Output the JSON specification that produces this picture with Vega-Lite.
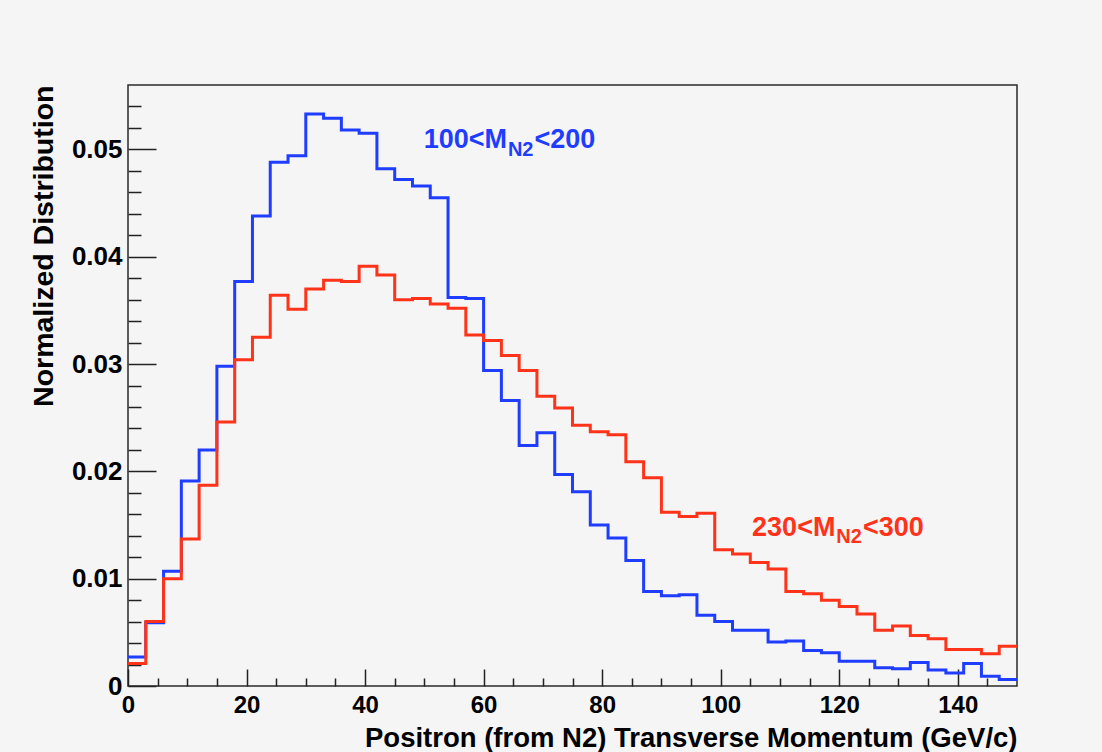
{
  "$schema": "https://vega.github.io/schema/vega-lite/v6.json",
  "autosize": "none",
  "width": 889,
  "height": 601,
  "padding": {"left": 128, "top": 85, "right": 85, "bottom": 66},
  "background": "#f5f5f5",
  "config": {
    "font": "Liberation Sans",
    "view": {"stroke": "#2a2a2a", "strokeWidth": 1.5, "fill": "#f5f5f5"},
    "axis": {
      "domain": false,
      "grid": false,
      "tickColor": "#222222",
      "tickWidth": 1.5,
      "labelFont": "Liberation Sans",
      "labelFontWeight": "bold",
      "labelFontSize": 24,
      "labelColor": "#000000",
      "titleFont": "Liberation Sans",
      "titleFontWeight": "bold",
      "titleFontSize": 27.5,
      "titleColor": "#000000",
      "zindex": 1
    }
  },
  "datasets": {
    "bins": [
      {"m": "100-200", "lo": 0, "hi": 3, "v": 0.0027},
      {"m": "100-200", "lo": 3, "hi": 6, "v": 0.0059},
      {"m": "100-200", "lo": 6, "hi": 9, "v": 0.0107},
      {"m": "100-200", "lo": 9, "hi": 12, "v": 0.0191},
      {"m": "100-200", "lo": 12, "hi": 15, "v": 0.0220},
      {"m": "100-200", "lo": 15, "hi": 18, "v": 0.0298},
      {"m": "100-200", "lo": 18, "hi": 21, "v": 0.0377},
      {"m": "100-200", "lo": 21, "hi": 24, "v": 0.0438},
      {"m": "100-200", "lo": 24, "hi": 27, "v": 0.0488},
      {"m": "100-200", "lo": 27, "hi": 30, "v": 0.0494},
      {"m": "100-200", "lo": 30, "hi": 33, "v": 0.0533},
      {"m": "100-200", "lo": 33, "hi": 36, "v": 0.0529},
      {"m": "100-200", "lo": 36, "hi": 39, "v": 0.0518},
      {"m": "100-200", "lo": 39, "hi": 42, "v": 0.0515},
      {"m": "100-200", "lo": 42, "hi": 45, "v": 0.0482},
      {"m": "100-200", "lo": 45, "hi": 48, "v": 0.0472},
      {"m": "100-200", "lo": 48, "hi": 51, "v": 0.0466},
      {"m": "100-200", "lo": 51, "hi": 54, "v": 0.0455},
      {"m": "100-200", "lo": 54, "hi": 57, "v": 0.0362},
      {"m": "100-200", "lo": 57, "hi": 60, "v": 0.0361},
      {"m": "100-200", "lo": 60, "hi": 63, "v": 0.0294},
      {"m": "100-200", "lo": 63, "hi": 66, "v": 0.0266},
      {"m": "100-200", "lo": 66, "hi": 69, "v": 0.0224},
      {"m": "100-200", "lo": 69, "hi": 72, "v": 0.0236},
      {"m": "100-200", "lo": 72, "hi": 75, "v": 0.0197},
      {"m": "100-200", "lo": 75, "hi": 78, "v": 0.0181},
      {"m": "100-200", "lo": 78, "hi": 81, "v": 0.0150},
      {"m": "100-200", "lo": 81, "hi": 84, "v": 0.0138},
      {"m": "100-200", "lo": 84, "hi": 87, "v": 0.0117},
      {"m": "100-200", "lo": 87, "hi": 90, "v": 0.0088},
      {"m": "100-200", "lo": 90, "hi": 93, "v": 0.0084},
      {"m": "100-200", "lo": 93, "hi": 96, "v": 0.0085},
      {"m": "100-200", "lo": 96, "hi": 99, "v": 0.0066},
      {"m": "100-200", "lo": 99, "hi": 102, "v": 0.0060},
      {"m": "100-200", "lo": 102, "hi": 105, "v": 0.0052},
      {"m": "100-200", "lo": 105, "hi": 108, "v": 0.0052},
      {"m": "100-200", "lo": 108, "hi": 111, "v": 0.0041},
      {"m": "100-200", "lo": 111, "hi": 114, "v": 0.0042},
      {"m": "100-200", "lo": 114, "hi": 117, "v": 0.0033},
      {"m": "100-200", "lo": 117, "hi": 120, "v": 0.0031},
      {"m": "100-200", "lo": 120, "hi": 123, "v": 0.0023},
      {"m": "100-200", "lo": 123, "hi": 126, "v": 0.0023},
      {"m": "100-200", "lo": 126, "hi": 129, "v": 0.0017},
      {"m": "100-200", "lo": 129, "hi": 132, "v": 0.0016},
      {"m": "100-200", "lo": 132, "hi": 135, "v": 0.0022},
      {"m": "100-200", "lo": 135, "hi": 138, "v": 0.0015},
      {"m": "100-200", "lo": 138, "hi": 141, "v": 0.0012},
      {"m": "100-200", "lo": 141, "hi": 144, "v": 0.0021},
      {"m": "100-200", "lo": 144, "hi": 147, "v": 0.0009},
      {"m": "100-200", "lo": 147, "hi": 150, "v": 0.0006},
      {"m": "230-300", "lo": 0, "hi": 3, "v": 0.0021},
      {"m": "230-300", "lo": 3, "hi": 6, "v": 0.0060},
      {"m": "230-300", "lo": 6, "hi": 9, "v": 0.0100},
      {"m": "230-300", "lo": 9, "hi": 12, "v": 0.0137},
      {"m": "230-300", "lo": 12, "hi": 15, "v": 0.0187},
      {"m": "230-300", "lo": 15, "hi": 18, "v": 0.0246},
      {"m": "230-300", "lo": 18, "hi": 21, "v": 0.0304},
      {"m": "230-300", "lo": 21, "hi": 24, "v": 0.0325},
      {"m": "230-300", "lo": 24, "hi": 27, "v": 0.0364},
      {"m": "230-300", "lo": 27, "hi": 30, "v": 0.0351},
      {"m": "230-300", "lo": 30, "hi": 33, "v": 0.0370},
      {"m": "230-300", "lo": 33, "hi": 36, "v": 0.0378},
      {"m": "230-300", "lo": 36, "hi": 39, "v": 0.0377},
      {"m": "230-300", "lo": 39, "hi": 42, "v": 0.0391},
      {"m": "230-300", "lo": 42, "hi": 45, "v": 0.0383},
      {"m": "230-300", "lo": 45, "hi": 48, "v": 0.0360},
      {"m": "230-300", "lo": 48, "hi": 51, "v": 0.0361},
      {"m": "230-300", "lo": 51, "hi": 54, "v": 0.0356},
      {"m": "230-300", "lo": 54, "hi": 57, "v": 0.0352},
      {"m": "230-300", "lo": 57, "hi": 60, "v": 0.0327},
      {"m": "230-300", "lo": 60, "hi": 63, "v": 0.0322},
      {"m": "230-300", "lo": 63, "hi": 66, "v": 0.0308},
      {"m": "230-300", "lo": 66, "hi": 69, "v": 0.0294},
      {"m": "230-300", "lo": 69, "hi": 72, "v": 0.0270},
      {"m": "230-300", "lo": 72, "hi": 75, "v": 0.0259},
      {"m": "230-300", "lo": 75, "hi": 78, "v": 0.0243},
      {"m": "230-300", "lo": 78, "hi": 81, "v": 0.0237},
      {"m": "230-300", "lo": 81, "hi": 84, "v": 0.0234},
      {"m": "230-300", "lo": 84, "hi": 87, "v": 0.0209},
      {"m": "230-300", "lo": 87, "hi": 90, "v": 0.0194},
      {"m": "230-300", "lo": 90, "hi": 93, "v": 0.0162},
      {"m": "230-300", "lo": 93, "hi": 96, "v": 0.0158},
      {"m": "230-300", "lo": 96, "hi": 99, "v": 0.0161},
      {"m": "230-300", "lo": 99, "hi": 102, "v": 0.0127},
      {"m": "230-300", "lo": 102, "hi": 105, "v": 0.0123},
      {"m": "230-300", "lo": 105, "hi": 108, "v": 0.0115},
      {"m": "230-300", "lo": 108, "hi": 111, "v": 0.0109},
      {"m": "230-300", "lo": 111, "hi": 114, "v": 0.0088},
      {"m": "230-300", "lo": 114, "hi": 117, "v": 0.0086},
      {"m": "230-300", "lo": 117, "hi": 120, "v": 0.0080},
      {"m": "230-300", "lo": 120, "hi": 123, "v": 0.0074},
      {"m": "230-300", "lo": 123, "hi": 126, "v": 0.0067},
      {"m": "230-300", "lo": 126, "hi": 129, "v": 0.0052},
      {"m": "230-300", "lo": 129, "hi": 132, "v": 0.0056},
      {"m": "230-300", "lo": 132, "hi": 135, "v": 0.0047},
      {"m": "230-300", "lo": 135, "hi": 138, "v": 0.0044},
      {"m": "230-300", "lo": 138, "hi": 141, "v": 0.0034},
      {"m": "230-300", "lo": 141, "hi": 144, "v": 0.0034},
      {"m": "230-300", "lo": 144, "hi": 147, "v": 0.0030},
      {"m": "230-300", "lo": 147, "hi": 150, "v": 0.0037}
    ],
    "notes": [
      {"m": "100-200", "t": "100<M", "x": 49.9, "y": 0.0501},
      {"m": "100-200", "t": "<200", "x": 68.6, "y": 0.0501},
      {"m": "230-300", "t": "230<M", "x": 105.3, "y": 0.0140},
      {"m": "230-300", "t": "<300", "x": 124.0, "y": 0.0140}
    ],
    "subs": [
      {"m": "100-200", "t": "N2", "x": 64.1, "y": 0.0494},
      {"m": "230-300", "t": "N2", "x": 119.5, "y": 0.0133}
    ]
  },
  "layer": [
    {
      "data": {"name": "bins"},
      "transform": [{"fold": ["lo", "hi"], "as": ["edge", "pt"]}],
      "mark": {"type": "line", "strokeWidth": 3, "strokeJoin": "miter", "strokeCap": "butt", "clip": true},
      "encoding": {
        "x": {
          "field": "pt", "type": "quantitative",
          "scale": {"domain": [0, 150], "nice": false, "zero": false},
          "axis": {
            "orient": "bottom",
            "values": [0, 20, 40, 60, 80, 100, 120, 140],
            "format": "d",
            "tickSize": -17,
            "labelPadding": 24,
            "labelFlush": false,
            "title": "Positron (from N2) Transverse Momentum (GeV/c)",
            "titleAnchor": "end",
            "titleAlign": "right",
            "titleBaseline": "alphabetic",
            "titleY": 60
          }
        },
        "y": {
          "field": "v", "type": "quantitative",
          "scale": {"domain": [0, 0.056], "nice": false, "zero": false},
          "axis": {
            "orient": "left",
            "values": [0, 0.01, 0.02, 0.03, 0.04, 0.05],
            "format": ".2~f",
            "tickSize": -28,
            "labelPadding": 34,
            "labelFlush": false,
            "labelFontSize": 26,
            "title": "Normalized Distribution",
            "titleFontSize": 28.5,
            "titleAngle": -90,
            "titleAnchor": "end",
            "titleAlign": "right",
            "titleBaseline": "alphabetic",
            "titleX": -76,
            "titleY": 0
          }
        },
        "color": {
          "field": "m", "type": "nominal",
          "scale": {"domain": ["100-200", "230-300"], "range": ["#1f3dff", "#ff3319"]},
          "legend": null
        },
        "order": [{"field": "pt", "type": "quantitative"}, {"field": "edge", "type": "nominal"}]
      }
    },
    {
      "data": {"name": "notes"},
      "mark": {"type": "text", "align": "left", "baseline": "alphabetic", "fontSize": 27, "fontWeight": "bold", "font": "Liberation Sans"},
      "encoding": {
        "x": {
          "field": "x", "type": "quantitative",
          "axis": {
            "orient": "bottom",
            "values": [5, 10, 15, 25, 30, 35, 45, 50, 55, 65, 70, 75, 85, 90, 95, 105, 110, 115, 125, 130, 135, 145],
            "tickSize": -8,
            "labels": false,
            "title": null
          }
        },
        "y": {
          "field": "y", "type": "quantitative",
          "axis": {
            "orient": "left",
            "values": [0.002, 0.004, 0.006, 0.008, 0.012, 0.014, 0.016, 0.018, 0.022, 0.024, 0.026, 0.028, 0.032, 0.034, 0.036, 0.038, 0.042, 0.044, 0.046, 0.048, 0.052, 0.054],
            "tickSize": -13,
            "labels": false,
            "title": null
          }
        },
        "text": {"field": "t", "type": "nominal"},
        "color": {"field": "m", "type": "nominal", "legend": null}
      }
    },
    {
      "data": {"name": "subs"},
      "mark": {"type": "text", "align": "left", "baseline": "alphabetic", "fontSize": 20, "fontWeight": "bold", "font": "Liberation Sans"},
      "encoding": {
        "x": {"field": "x", "type": "quantitative", "axis": null},
        "y": {"field": "y", "type": "quantitative", "axis": null},
        "text": {"field": "t", "type": "nominal"},
        "color": {"field": "m", "type": "nominal", "legend": null}
      }
    }
  ],
  "resolve": {"axis": {"x": "independent", "y": "independent"}}
}
